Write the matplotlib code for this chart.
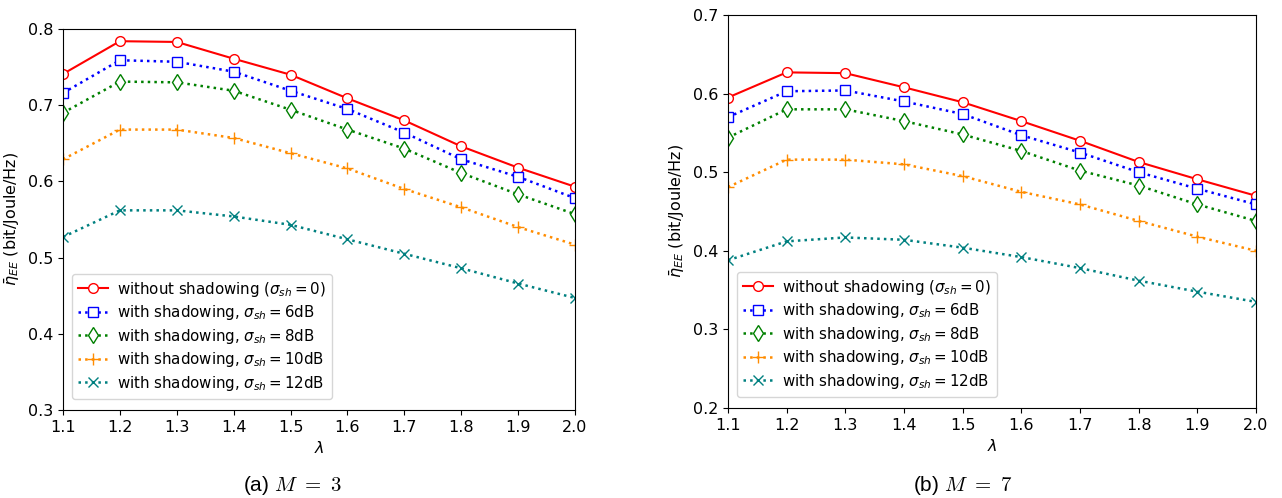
import matplotlib
matplotlib.use("Agg")
import matplotlib.pyplot as plt

lam = [1.1, 1.2, 1.3, 1.4, 1.5, 1.6, 1.7, 1.8, 1.9, 2.0]

# (a) M = 3
a_no_sh = [0.741, 0.784, 0.783, 0.761, 0.740, 0.709, 0.680, 0.646, 0.618, 0.593]
a_sh6 = [0.716, 0.759, 0.757, 0.744, 0.719, 0.695, 0.664, 0.629, 0.606, 0.578]
a_sh8 = [0.690, 0.731, 0.730, 0.719, 0.694, 0.668, 0.643, 0.611, 0.583, 0.557]
a_sh10 = [0.629, 0.668, 0.668, 0.657, 0.637, 0.617, 0.590, 0.566, 0.540, 0.517]
a_sh12 = [0.527, 0.562, 0.562, 0.554, 0.543, 0.524, 0.505, 0.486, 0.466, 0.447]

# (b) M = 7
b_no_sh = [0.595, 0.627, 0.626, 0.608, 0.589, 0.565, 0.540, 0.513, 0.491, 0.470]
b_sh6 = [0.570, 0.603, 0.604, 0.590, 0.574, 0.547, 0.525, 0.500, 0.479, 0.459]
b_sh8 = [0.544, 0.580, 0.580, 0.565, 0.548, 0.527, 0.502, 0.483, 0.459, 0.438]
b_sh10 = [0.481, 0.516, 0.516, 0.510, 0.495, 0.475, 0.459, 0.438, 0.418, 0.400]
b_sh12 = [0.388, 0.412, 0.417, 0.414, 0.404, 0.392, 0.378, 0.362, 0.348, 0.335]

labels = [
    r"without shadowing ($\sigma_{sh}=0$)",
    r"with shadowing, $\sigma_{sh}=6$dB",
    r"with shadowing, $\sigma_{sh}=8$dB",
    r"with shadowing, $\sigma_{sh}=10$dB",
    r"with shadowing, $\sigma_{sh}=12$dB",
]
styles = [
    dict(color="red", ls="-", marker="o", mfc="white", ms=7, lw=1.5),
    dict(color="blue", ls=":", marker="s", mfc="white", ms=7, lw=1.8),
    dict(color="green", ls=":", marker="d", mfc="white", ms=8, lw=1.8),
    dict(color="darkorange", ls=":", marker="+", ms=8, lw=1.8),
    dict(color="teal", ls=":", marker="x", ms=7, lw=1.8),
]

W, H = 1282, 498
fig = plt.figure(figsize=(W / 100, H / 100), dpi=100)
FS = 11.5

def make_ax(l, r, t, b, series, ylim, yticks, caption, cx):
    ax = fig.add_axes([l / W, 1 - b / H, (r - l) / W, (b - t) / H])
    for y, lab, st in zip(series, labels, styles):
        ax.plot(lam, y, label=lab, **st)
    ax.set_xlim(1.1, 2.0)
    ax.set_ylim(*ylim)
    ax.set_xticks(lam)
    ax.set_xticklabels([f"{v:.1f}" for v in lam])
    ax.set_yticks(yticks)
    ax.set_yticklabels([f"{v:.1f}" for v in yticks])
    ax.tick_params(labelsize=FS)
    ax.set_xlabel(r"$\lambda$", fontsize=FS)
    ax.set_ylabel(r"$\bar{\eta}_{EE}$ (bit/Joule/Hz)", fontsize=FS)
    ax.legend(loc="lower left", fontsize=10.8, handlelength=2.0,
              labelspacing=0.3, handletextpad=0.6, borderpad=0.4,
              bbox_to_anchor=(0.003, 0.01))
    fig.text(cx / W, 1 - 485 / H, caption, ha="center", va="center",
             fontsize=15, family="Liberation Sans", math_fontfamily="cm")
    return ax

make_ax(63, 575, 29, 410, [a_no_sh, a_sh6, a_sh8, a_sh10, a_sh12],
        (0.3, 0.8), [0.3, 0.4, 0.5, 0.6, 0.7, 0.8], r"(a) $M\ =\ 3$", 292)
make_ax(728, 1256, 15, 408, [b_no_sh, b_sh6, b_sh8, b_sh10, b_sh12],
        (0.2, 0.7), [0.2, 0.3, 0.4, 0.5, 0.6, 0.7], r"(b) $M\ =\ 7$", 963)

fig.savefig("out.png", dpi=100)
